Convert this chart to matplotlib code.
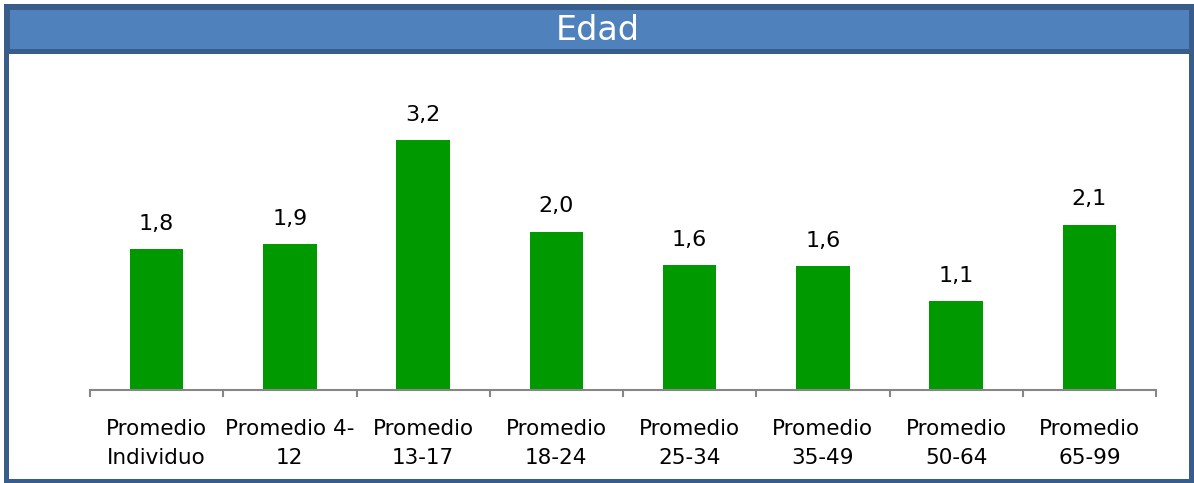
import matplotlib
matplotlib.use("Agg")
import matplotlib.pyplot as plt
from matplotlib.patches import Rectangle

categories = ["Promedio\nIndividuo", "Promedio 4-\n12", "Promedio\n13-17", "Promedio\n18-24",
              "Promedio\n25-34", "Promedio\n35-49", "Promedio\n50-64", "Promedio\n65-99"]
values = [1.81, 1.87, 3.20, 2.03, 1.60, 1.59, 1.14, 2.12]
title = "Edad"

W, H = 1194, 483
fig = plt.figure(figsize=(W / 100, H / 100), dpi=100)
plt.rcParams['font.family'] = ['DejaVu Sans']

def fx(x):
    return x / W

def fy(y):
    return 1 - y / H

dark = "#385D8A"
blue = "#4F81BD"
lw = 5 * 72 / 100

# outer frame
fig.patches.append(Rectangle((fx(5.5), fy(481)), fx(1191) - fx(5.5), fy(6) - fy(481),
                             transform=fig.transFigure, fill=False, edgecolor=dark, linewidth=lw,
                             joinstyle="miter", zorder=0))
# title bar
fig.patches.append(Rectangle((fx(6.5), fy(50.5)), fx(1191) - fx(6.5), fy(6.5) - fy(50.5),
                             transform=fig.transFigure, facecolor=blue, edgecolor=dark, linewidth=lw,
                             joinstyle="miter", zorder=1))
fig.text(fx(598), fy(30), title, color="white", fontsize=24, ha="center", va="center")

ax = fig.add_axes([fx(90), fy(390), fx(1156) - fx(90), fy(60) - fy(390)])
ax.set_facecolor("none")
x = list(range(len(values)))
bars = ax.bar(x, values, width=0.4, color="#009900", zorder=2)
ax.set_xlim(-0.5, len(values) - 0.5)
ax.set_ylim(0, 330 / 78)

for xi, v in zip(x, values):
    ax.annotate(f"{v:.1f}".replace(".", ","), (xi, v), xytext=(0, 11), textcoords="offset points",
                ha="center", va="bottom", fontsize=16, color="black")

for s in ["top", "right", "left"]:
    ax.spines[s].set_visible(False)
ax.spines["bottom"].set_color("#868686")
ax.spines["bottom"].set_linewidth(1.5)
ax.set_yticks([])
ax.set_xticks(x)
ax.set_xticklabels(categories, fontsize=15.5, linespacing=1.58)
ax.tick_params(axis="x", which="major", length=0, pad=21)
ax.set_xticks([i - 0.5 for i in range(len(values) + 1)], minor=True)
ax.tick_params(axis="x", which="minor", length=5, width=1.5, color="#868686")

fig.savefig("out.png", dpi=100)
